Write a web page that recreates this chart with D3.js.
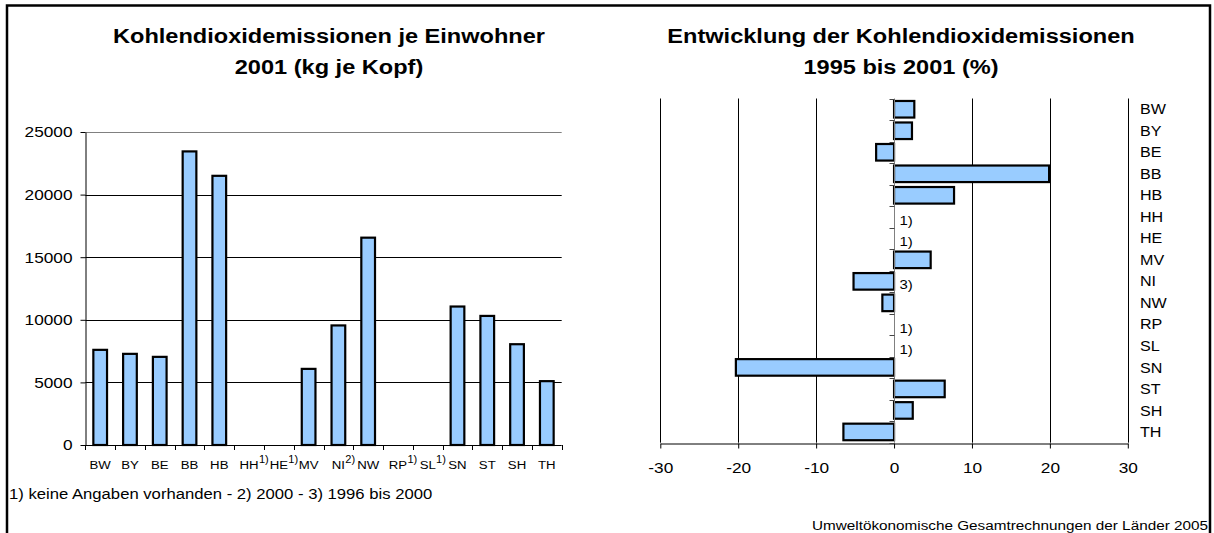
<!DOCTYPE html>
<html>
<head>
<meta charset="utf-8">
<script src="https://cdn.jsdelivr.net/npm/d3@7"></script>
<style>
html, body { margin: 0; padding: 0; background: #fff; }
svg { display: block; font-family: "Liberation Sans", Arial, sans-serif; }
</style>
</head>
<body>
<div id="chart"></div>
<script>
// Werte
var laender = ["BW", "BY", "BE", "BB", "HB", "HH", "HE", "MV", "NI", "NW", "RP", "SL", "SN", "ST", "SH", "TH"];
var co2JeEinwohner = [7600, 7280, 7040, 23450, 21500, null, null, 6080, 9550, 16560, null, null, 11060, 10310, 8050, 5100];
var notenLinks = ["", "", "", "", "", "1)", "1)", "", "2)", "", "1)", "1)", "", "", "", ""];
var veraenderung = [2.6, 2.3, -2.3, 19.9, 7.7, null, null, 4.7, -5.2, -1.5, null, null, -20.3, 6.5, 2.4, -6.5];
var notenRechts = ["", "", "", "", "", "1)", "1)", "", "3)", "", "1)", "1)", "", "", "", ""];
var yTicksLinks = [0, 5000, 10000, 15000, 20000, 25000];
var xTicksRechts = [-30, -20, -10, 0, 10, 20, 30];

var SX = 1.15; // Schrift ist im Original leicht in die Breite gezogen
var FILL = "#99ccff";

var svg = d3.select("#chart").append("svg")
	.attr("width", 1214)
	.attr("height", 533);

function txt(g, x, y, s, size, anchor, weight, sx) {
	return g.append("text")
		.attr("transform", "translate(" + x + "," + y + ") scale(" + (sx || SX) + ",1)")
		.attr("text-anchor", anchor || "start")
		.style("font-size", size + "px")
		.style("font-weight", weight || "normal")
		.attr("fill", "#000")
		.text(s);
}

// Rahmen
svg.append("path")
	.attr("d", "M7,533V5.5H1210V533")
	.attr("fill", "none")
	.attr("stroke", "#000")
	.attr("stroke-width", 2.5);

/* ---------- linkes Diagramm ---------- */
var links = svg.append("g");
var xL = d3.scaleBand().domain(laender).range([85.3, 561.7]);
var yL = d3.scaleLinear().domain([0, 25000]).range([445, 132]);

txt(links, 329, 42.7, "Kohlendioxidemissionen je Einwohner", 20.5, "middle", "bold");
txt(links, 329, 74, "2001 (kg je Kopf)", 20.5, "middle", "bold");

links.selectAll(".grid")
	.data(yTicksLinks.filter(function (d) { return d > 0; }))
	.enter().append("line")
	.attr("x1", xL.range()[0])
	.attr("x2", xL.range()[1])
	.attr("y1", function (d) { return Math.round(yL(d)) + 0.5; })
	.attr("y2", function (d) { return Math.round(yL(d)) + 0.5; })
	.attr("stroke", function (d) { return d === 25000 ? "#808080" : "#000"; })
	.attr("stroke-width", 1);

var yAxisL = links.append("g")
	.attr("transform", "translate(85.5,0)")
	.call(d3.axisLeft(yL).tickValues(yTicksLinks).tickSize(5).tickSizeOuter(0).tickFormat(function (d) { return String(d); }));
yAxisL.attr("font-family", null).attr("font-size", null);
yAxisL.select(".domain").attr("stroke", "#000");
yAxisL.selectAll(".tick line").attr("stroke", "#000");
yAxisL.selectAll("text")
	.attr("x", null)
	.attr("fill", "#000")
	.attr("transform", "translate(-13,0) scale(" + SX + ",1)")
	.style("font-size", "15px");

var bw = xL.bandwidth() * 0.46;
var datenLinks = laender.map(function (l, i) { return { land: l, wert: co2JeEinwohner[i], note: notenLinks[i] }; });

links.selectAll(".bar")
	.data(datenLinks.filter(function (d) { return d.wert != null; }))
	.enter().append("rect")
	.attr("class", "bar")
	.attr("x", function (d) { return xL(d.land) + (xL.bandwidth() - bw) / 2; })
	.attr("y", function (d) { return yL(d.wert); })
	.attr("width", bw)
	.attr("height", function (d) { return yL(0) - yL(d.wert); })
	.attr("fill", FILL)
	.attr("stroke", "#000")
	.attr("stroke-width", 2.2);

// x-Achse mit Strichen an den Kategoriegrenzen
links.append("line")
	.attr("x1", xL.range()[0]).attr("x2", xL.range()[1])
	.attr("y1", yL(0) + 0.5).attr("y2", yL(0) + 0.5)
	.attr("stroke", "#000");
links.selectAll(".xtick")
	.data(laender.map(function (l) { return xL(l); }).concat([xL.range()[1]]))
	.enter().append("line")
	.attr("x1", function (d) { return Math.round(d) + 0.5; })
	.attr("x2", function (d) { return Math.round(d) + 0.5; })
	.attr("y1", yL(0))
	.attr("y2", yL(0) + 5)
	.attr("stroke", "#000");

datenLinks.forEach(function (d) {
	var cx = xL(d.land) + xL.bandwidth() / 2;
	var t = txt(links, cx, 469.3, d.land, 11.5, "middle");
	if (d.note) {
		var w = t.node().getComputedTextLength() * SX;
		txt(links, cx + w / 2 + 0.3, 462.5, d.note, 10.5, "start", null, 1.05);
	}
});

txt(links, 9, 499.3, "1) keine Angaben vorhanden - 2) 2000 - 3) 1996 bis 2000", 14.5, "start");

/* ---------- rechtes Diagramm ---------- */
var rechts = svg.append("g");
var xR = d3.scaleLinear().domain([-30, 30]).range([660.3, 1127.8]);
var yR = d3.scaleBand().domain(laender).range([98.5, 442.7]).paddingInner(0.23).paddingOuter(0.115);
var step = yR.step();

txt(rechts, 901, 42.7, "Entwicklung der Kohlendioxidemissionen", 20.5, "middle", "bold");
txt(rechts, 901, 74, "1995 bis 2001 (%)", 20.5, "middle", "bold");

rechts.selectAll(".vgrid")
	.data(xTicksRechts.filter(function (d) { return d !== 0; }))
	.enter().append("line")
	.attr("x1", function (d) { return Math.round(xR(d)) + 0.5; })
	.attr("x2", function (d) { return Math.round(xR(d)) + 0.5; })
	.attr("y1", yR.range()[0])
	.attr("y2", yR.range()[1])
	.attr("stroke", "#000");

var xAxisR = rechts.append("g")
	.attr("transform", "translate(0," + (Math.round(yR.range()[1]) + 0.5) + ")")
	.call(d3.axisBottom(xR).tickValues(xTicksRechts).tickSize(5).tickSizeOuter(0).tickFormat(function (d) { return String(d); }));
xAxisR.attr("font-family", null).attr("font-size", null);
xAxisR.select(".domain").attr("stroke", "#000");
xAxisR.selectAll(".tick line").attr("stroke", "#000");
xAxisR.selectAll("text")
	.attr("y", null)
	.attr("dy", null)
	.attr("fill", "#000")
	.attr("transform", "translate(0,29) scale(" + SX + ",1)")
	.style("font-size", "15px");

var datenRechts = laender.map(function (l, i) { return { land: l, wert: veraenderung[i], note: notenRechts[i] }; });

rechts.selectAll(".hbar")
	.data(datenRechts.filter(function (d) { return d.wert != null; }))
	.enter().append("rect")
	.attr("class", "hbar")
	.attr("x", function (d) { return xR(Math.min(0, d.wert)); })
	.attr("y", function (d) { return yR(d.land); })
	.attr("width", function (d) { return Math.abs(xR(d.wert) - xR(0)); })
	.attr("height", yR.bandwidth())
	.attr("fill", FILL)
	.attr("stroke", "#000")
	.attr("stroke-width", 2.2);

// senkrechte Achse bei 0
var x0 = Math.round(xR(0)) + 0.5;
rechts.append("line")
	.attr("x1", x0).attr("x2", x0)
	.attr("y1", yR.range()[0]).attr("y2", yR.range()[1])
	.attr("stroke", "#808080");
rechts.selectAll(".ytick")
	.data(d3.range(laender.length + 1).map(function (i) { return yR.range()[0] + i * step; }))
	.enter().append("line")
	.attr("x1", x0 - 5).attr("x2", x0)
	.attr("y1", function (d) { return Math.round(d) + 0.5; })
	.attr("y2", function (d) { return Math.round(d) + 0.5; })
	.attr("stroke", "#444");

datenRechts.forEach(function (d) {
	var cy = yR(d.land) + yR.bandwidth() / 2;
	txt(rechts, 1140, cy, d.land, 14, "start").attr("dominant-baseline", "central");
	if (d.note) {
		txt(rechts, x0 + 5, cy + 3.5, d.note, 13, "start").attr("dominant-baseline", "central");
	}
});

txt(rechts, 1208, 529.5, "Umweltökonomische Gesamtrechnungen der Länder 2005", 13.3, "end");
</script>
</body>
</html>
